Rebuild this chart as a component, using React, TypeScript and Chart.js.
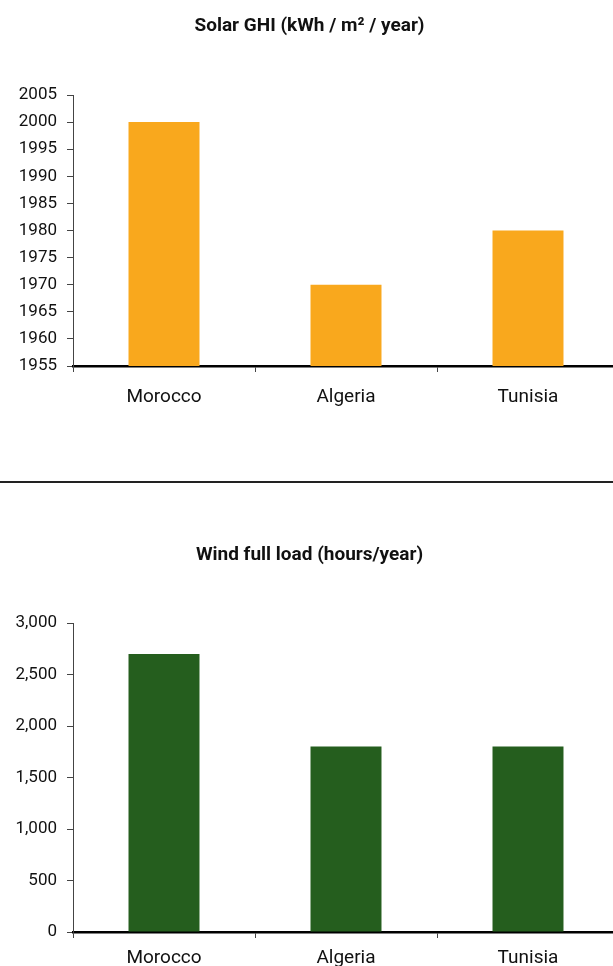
import React, { useEffect, useRef } from "react";
import { Chart, registerables } from "chart.js";

Chart.register(...registerables);

const countries = ["Morocco", "Algeria", "Tunisia"];
const solarGhi = [2000, 1970, 1980];
const windHours = [2700, 1800, 1800];
const solarTitle = "Solar GHI (kWh / m² / year)";
const windTitle = "Wind full load (hours/year)";

const FONT = "Roboto, 'Liberation Sans', sans-serif";

type Cfg = {
  title: string;
  values: number[];
  color: string;
  min: number;
  max: number;
  step: number;
  height: number;
  titlePadTop: number;
  titlePadBottom: number;
  xAxisHeight: number;
  labelPad: number;
  fmt: (v: number) => string;
};

function BarPanel({ cfg }: { cfg: Cfg }) {
  const ref = useRef<HTMLCanvasElement | null>(null);
  useEffect(() => {
    if (!ref.current) return;
    const chart = new Chart(ref.current, {
      type: "bar",
      data: {
        labels: countries,
        datasets: [
          {
            data: cfg.values,
            backgroundColor: cfg.color,
            borderWidth: 0,
            barPercentage: 0.39,
            categoryPercentage: 1,
          },
        ],
      },
      options: {
        animation: false,
        responsive: false,
        maintainAspectRatio: false,
        layout: { padding: { left: 0, right: 0, top: 0, bottom: 0 } },
        plugins: {
          legend: { display: false },
          tooltip: { enabled: false },
          title: {
            display: true,
            text: cfg.title,
            color: "#111",
            font: { family: FONT, size: 19, weight: "bold", lineHeight: 1 },
            padding: { top: cfg.titlePadTop, bottom: cfg.titlePadBottom },
          },
        },
        scales: {
          x: {
            offset: true,
            border: { display: true, color: "#000", width: 2.5 },
            grid: {
              offset: true,
              drawOnChartArea: false,
              drawTicks: true,
              tickLength: 6,
              color: "#444",
              lineWidth: 1,
            },
            ticks: {
              color: "#111",
              padding: cfg.labelPad,
              font: { family: FONT, size: 19, lineHeight: 1 },
              maxRotation: 0,
            },
            afterFit: (s: any) => {
              s.height = cfg.xAxisHeight;
            },
          },
          y: {
            min: cfg.min,
            max: cfg.max,
            border: { display: true, color: "#444", width: 1 },
            grid: {
              drawOnChartArea: false,
              drawTicks: true,
              tickLength: 6,
              color: "#444",
              lineWidth: 1,
            },
            ticks: {
              stepSize: cfg.step,
              color: "#111",
              padding: 10,
              font: { family: FONT, size: 17, lineHeight: 1 },
              callback: (v: any) => cfg.fmt(Number(v)),
            },
            afterFit: (s: any) => {
              s.width = 73;
            },
          },
        },
      },
    });
    return () => chart.destroy();
  }, [cfg]);
  return (
    <div style={{ width: 613, height: cfg.height, overflow: "hidden" }}>
      <canvas ref={ref} width={619} height={cfg.height} style={{ display: "block" }} />
    </div>
  );
}

const solarCfg: Cfg = {
  title: solarTitle,
  values: solarGhi,
  color: "#F9A81D",
  min: 1955,
  max: 2005,
  step: 5,
  height: 481,
  titlePadTop: 16.5,
  titlePadBottom: 59.5,
  xAxisHeight: 115,
  labelPad: 16,
  fmt: (v) => String(v),
};

const windCfg: Cfg = {
  title: windTitle,
  values: windHours,
  color: "#255E1E",
  min: 0,
  max: 3000,
  step: 500,
  height: 484,
  titlePadTop: 62.5,
  titlePadBottom: 58.5,
  xAxisHeight: 35,
  labelPad: 11,
  fmt: (v) => v.toLocaleString("en-US"),
};

export default function App() {
  return (
    <div style={{ position: "absolute", left: 0, top: 0, width: 613, height: 966, overflow: "hidden", background: "#fff" }}>
      <BarPanel cfg={solarCfg} />
      <div style={{ height: 1.5, background: "#222", width: 613 }} />
      <BarPanel cfg={windCfg} />
    </div>
  );
}
